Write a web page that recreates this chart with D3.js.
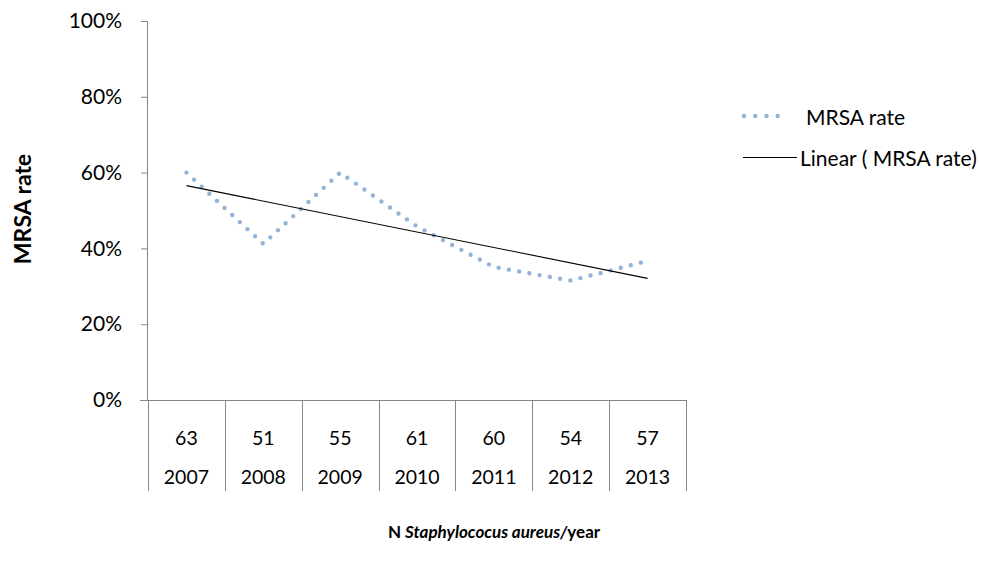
<!DOCTYPE html>
<html>
<head>
<meta charset="utf-8">
<script src="https://cdn.jsdelivr.net/npm/d3@7"></script>
<style>
  html, body { margin: 0; padding: 0; background: #fff; }
  svg { display: block; font-family: Lato, "Noto Sans", sans-serif; }
</style>
</head>
<body>
<svg id="chart" width="981" height="570"></svg>
<script>
// ---- data ----
const years = ["2007", "2008", "2009", "2010", "2011", "2012", "2013"];
const counts = [63, 51, 55, 61, 60, 54, 57];
const mrsaRate = [0.60, 0.412, 0.60, 0.458, 0.351, 0.315, 0.367];
const yTicks = [0, 0.2, 0.4, 0.6, 0.8, 1.0];
const seriesName = "MRSA rate";
const trendName = "Linear ( MRSA rate)";

// ---- layout ----
const svg = d3.select("#chart");
const plot = { left: 148, right: 686, top: 21, bottom: 400 };
const axisColor = "#868686";
const dotColor = "#95B3D7";
const FONT = "Lato, 'Noto Sans', sans-serif";

const x = d3.scaleBand().domain(years).range([plot.left, plot.right]).padding(0);
const y = d3.scaleLinear().domain([0, 1]).range([plot.bottom, plot.top]);
const cx = d => x(d) + x.bandwidth() / 2;

// y axis
const yAxis = d3.axisLeft(y).tickValues(yTicks).tickSize(7).tickPadding(19)
  .tickFormat(d3.format(".0%"));
const gy = svg.append("g").attr("transform", `translate(${plot.left},0)`).call(yAxis);
gy.select(".domain").attr("stroke", axisColor).attr("d", `M-0.5,${plot.top}V${plot.bottom}`);
gy.selectAll(".tick line").attr("stroke", axisColor);
gy.selectAll(".tick text").attr("fill", "#000").style("font-size", "21px")
  .style("font-family", FONT);

// x axis line (extends left over the tick)
svg.append("line")
  .attr("x1", plot.left - 8).attr("x2", plot.right)
  .attr("y1", plot.bottom + 0.5).attr("y2", plot.bottom + 0.5)
  .attr("stroke", axisColor);

// category separators (table)
const bounds = years.map(d => x(d)).concat([x(years[years.length - 1]) + x.bandwidth()]);
svg.append("g").selectAll("line").data(bounds).join("line")
  .attr("x1", d => Math.round(d) + 0.5).attr("x2", d => Math.round(d) + 0.5)
  .attr("y1", plot.bottom).attr("y2", 491)
  .attr("stroke", axisColor);

// counts row
svg.append("g").selectAll("text").data(years).join("text")
  .attr("x", d => cx(d)).attr("y", 437)
  .attr("text-anchor", "middle").attr("dominant-baseline", "central")
  .style("font-size", "19.5px")
  .text((d, i) => counts[i]);

// years row
svg.append("g").selectAll("text").data(years).join("text")
  .attr("x", d => cx(d)).attr("y", 476)
  .attr("text-anchor", "middle").attr("dominant-baseline", "central")
  .style("font-size", "19.5px")
  .text(d => d);

// dotted series (straight segments)
const pts = years.map((d, i) => [cx(d), y(mrsaRate[i])]);
svg.append("path")
  .attr("d", d3.line()(pts))
  .attr("fill", "none")
  .attr("stroke", dotColor)
  .attr("stroke-width", 4.4)
  .attr("stroke-linecap", "round")
  .attr("stroke-dasharray", "0,10.4");

// linear trend (least squares)
const xs = years.map((d, i) => i + 1);
const mx = d3.mean(xs), my = d3.mean(mrsaRate);
const slope = d3.sum(xs, (v, i) => (v - mx) * (mrsaRate[i] - my)) / d3.sum(xs, v => (v - mx) ** 2);
const icpt = my - slope * mx;
const trend = [[cx(years[0]), y(icpt + slope * 1)],
               [cx(years[years.length - 1]), y(icpt + slope * years.length)]];
svg.append("path")
  .attr("d", d3.line()(trend))
  .attr("fill", "none").attr("stroke", "#000").attr("stroke-width", 1.1);

// legend
const lg = svg.append("g");
lg.append("line").attr("x1", 744).attr("x2", 789).attr("y1", 116).attr("y2", 116)
  .attr("stroke", dotColor).attr("stroke-width", 4.4)
  .attr("stroke-linecap", "round").attr("stroke-dasharray", "0,11.25");
lg.append("text").attr("x", 806).attr("y", 116).attr("dominant-baseline", "central")
  .style("font-size", "21px").text(seriesName);
lg.append("line").attr("x1", 743).attr("x2", 797).attr("y1", 157.5).attr("y2", 157.5)
  .attr("stroke", "#000").attr("stroke-width", 1);
lg.append("text").attr("x", 800).attr("y", 157).attr("dominant-baseline", "central")
  .style("font-size", "21px").text(trendName);

// axis titles
svg.append("text")
  .attr("transform", `translate(22,${209}) rotate(-90)`)
  .attr("text-anchor", "middle").attr("dominant-baseline", "central")
  .style("font-size", "23px").style("font-weight", "bold")
  .text("MRSA rate");

const xt = svg.append("text")
  .attr("x", 494).attr("y", 531)
  .attr("text-anchor", "middle").attr("dominant-baseline", "central")
  .style("font-size", "17px").style("font-weight", "bold");
xt.append("tspan").text("N ");
xt.append("tspan").style("font-style", "italic").text("Staphylococus aureus/");
xt.append("tspan").text("year");
</script>
</body>
</html>
